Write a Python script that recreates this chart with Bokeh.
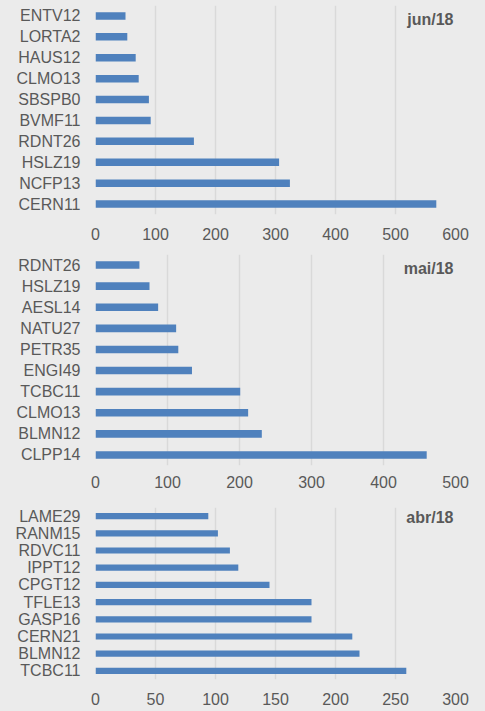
from bokeh.plotting import figure
from bokeh.layouts import column
from bokeh.models import Range1d, FactorRange, FixedTicker, ColumnDataSource
from bokeh.core.properties import value
from bokeh.embed import file_html
from bokeh.resources import INLINE

# ---- data (top-to-bottom as displayed) ----
jun_names = ["ENTV12", "LORTA2", "HAUS12", "CLMO13", "SBSPB0", "BVMF11", "RDNT26", "HSLZ19", "NCFP13", "CERN11"]
jun_values = [50, 53, 67, 72, 89, 92, 164, 306, 324, 568]
jun_ticks = [0, 100, 200, 300, 400, 500, 600]

mai_names = ["RDNT26", "HSLZ19", "AESL14", "NATU27", "PETR35", "ENGI49", "TCBC11", "CLMO13", "BLMN12", "CLPP14"]
mai_values = [61, 75, 87, 112, 115, 134, 201, 212, 231, 460]
mai_ticks = [0, 100, 200, 300, 400, 500]

abr_names = ["LAME29", "RANM15", "RDVC11", "IPPT12", "CPGT12", "TFLE13", "GASP16", "CERN21", "BLMN12", "TCBC11"]
abr_values = [94, 102, 112, 119, 145, 180, 180, 214, 220, 259]
abr_ticks = [0, 50, 100, 150, 200, 250, 300]

titles = ["jun/18", "mai/18", "abr/18"]

BG = "#ebebeb"
BAR = "#4f81bd"
TXT = "#595959"
GRID = "#d9d9d9"
FONT = "Liberation Sans"
W = 485


def panel(names, vals, ticks, title, border_top, frame_h, border_bottom, x_standoff, title_dy):
    factors = list(reversed(names))
    h = border_top + frame_h + border_bottom
    p = figure(width=W, height=h, output_backend="svg", toolbar_location=None,
               x_range=Range1d(ticks[0], ticks[-1]),
               y_range=FactorRange(factors=factors, range_padding=0))
    p.min_border = 0
    p.min_border_left = 95
    p.min_border_right = 30
    p.min_border_top = border_top
    p.min_border_bottom = border_bottom
    p.background_fill_color = BG
    p.border_fill_color = BG
    p.outline_line_color = None

    src = ColumnDataSource(dict(name=names, val=vals))
    p.hbar(y="name", right="val", left=0, height=0.36, source=src,
           fill_color=BAR, line_color=None)

    p.text(x=[ticks[-1]], y=[names[0]], text=[title], text_align="right",
           text_baseline="middle", x_offset=-2, y_offset=title_dy,
           text_font=value(FONT), text_font_size="16px", text_font_style="bold",
           text_color=TXT)

    p.xaxis.ticker = FixedTicker(ticks=ticks)
    p.xaxis.axis_line_color = None
    p.xaxis.major_tick_line_color = None
    p.xaxis.minor_tick_line_color = None
    p.xaxis.major_tick_out = 0
    p.xaxis.major_label_standoff = x_standoff
    p.xaxis.major_label_text_font = FONT
    p.xaxis.major_label_text_font_size = "16px"
    p.xaxis.major_label_text_color = TXT

    p.yaxis.axis_line_color = None
    p.yaxis.major_tick_line_color = None
    p.yaxis.major_tick_out = 0
    p.yaxis.major_label_standoff = 15
    p.yaxis.major_label_text_font = FONT
    p.yaxis.major_label_text_font_size = "16px"
    p.yaxis.major_label_text_color = TXT

    p.xgrid.grid_line_color = GRID
    p.xgrid.grid_line_width = 1.5
    p.ygrid.grid_line_color = None
    return p


p1 = panel(jun_names, jun_values, jun_ticks, titles[0], 5, 211, 26, 13, 4)
p2 = panel(mai_names, mai_values, mai_ticks, titles[1], 12, 211, 25, 10, 3)
p3 = panel(abr_names, abr_values, abr_ticks, titles[2], 17, 172, 32, 13, 1)

layout = column(p1, p2, p3, spacing=0)
layout.background = BG

open("out.html", "w").write(file_html(layout, INLINE))
